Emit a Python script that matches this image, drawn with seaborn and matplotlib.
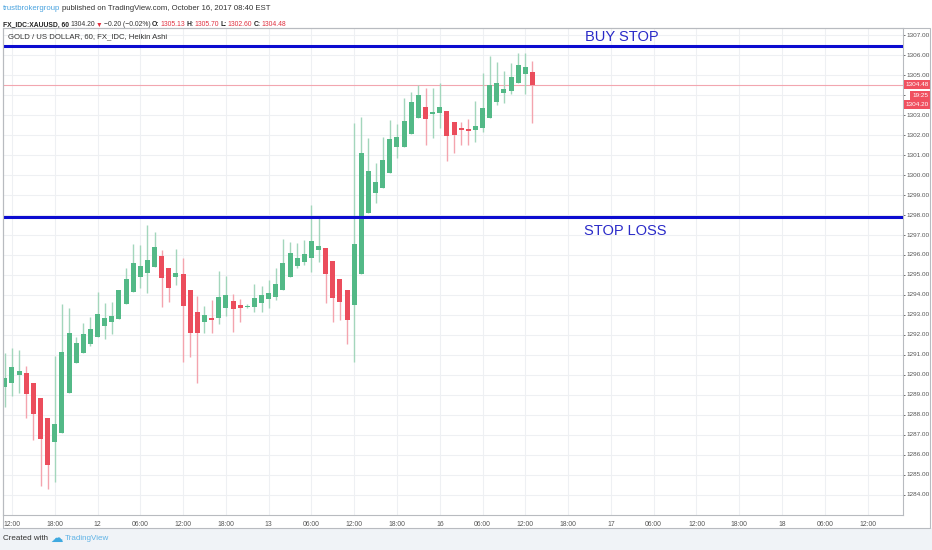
import numpy as np
import pandas as pd
import matplotlib
matplotlib.use("Agg")
import matplotlib.pyplot as plt
import seaborn as sns
from matplotlib.patches import Rectangle

# Heikin Ashi hourly bars, index 0 = 12:00 of the first labelled session
bar_index = list(range(-1, 74))
opens = [1289.39, 1289.60, 1289.96, 1290.10, 1289.60, 1288.81, 1287.81, 1286.64, 1287.09, 1289.10,
         1290.56, 1291.10, 1291.52, 1291.90, 1292.43, 1292.64, 1292.77, 1293.52, 1294.14, 1294.86,
         1295.10, 1295.39, 1295.92, 1295.35, 1294.89, 1295.03, 1294.23, 1293.14, 1292.61, 1292.81,
         1292.81, 1293.34, 1293.68, 1293.48, 1293.37, 1293.36, 1293.59, 1293.77, 1293.89, 1294.23,
         1294.89, 1295.44, 1295.64, 1295.81, 1296.23, 1296.35, 1295.67, 1294.76, 1294.23, 1293.48,
         1295.01, 1298.06, 1299.09, 1299.34, 1300.06, 1301.39, 1301.39, 1302.01, 1302.81, 1303.39,
         1303.04, 1303.06, 1303.19, 1302.61, 1302.31, 1302.28, 1302.23, 1302.34, 1302.81, 1303.61,
         1304.06, 1304.18, 1304.56, 1305.01, 1305.13]
closes = [1289.81, 1290.39, 1290.19, 1289.01, 1288.02, 1286.77, 1285.47, 1287.52, 1291.13, 1292.09,
          1291.59, 1292.02, 1292.26, 1293.01, 1292.81, 1292.95, 1294.23, 1294.78, 1295.56, 1295.42,
          1295.73, 1296.39, 1294.84, 1294.34, 1295.10, 1293.43, 1292.06, 1292.09, 1293.00, 1292.79,
          1293.86, 1294.00, 1293.27, 1293.31, 1293.43, 1293.84, 1293.98, 1294.06, 1294.55, 1295.56,
          1296.06, 1295.85, 1296.01, 1296.67, 1296.42, 1295.03, 1293.81, 1293.64, 1292.72, 1296.53,
          1301.09, 1300.19, 1299.61, 1300.73, 1301.76, 1301.86, 1302.69, 1303.61, 1303.98, 1302.76,
          1303.11, 1303.36, 1301.94, 1301.98, 1302.26, 1302.18, 1302.43, 1303.31, 1304.48, 1304.56,
          1304.28, 1304.86, 1305.48, 1305.36, 1304.48]
highs = [1291.06, 1291.34, 1291.22, 1290.44, 1289.60, 1288.81, 1287.81, 1290.92, 1293.52, 1293.31,
         1291.90, 1292.59, 1292.86, 1294.11, 1293.59, 1293.64, 1294.23, 1295.35, 1296.53, 1296.48,
         1297.47, 1297.11, 1296.23, 1295.35, 1296.26, 1295.85, 1294.23, 1293.93, 1293.43, 1293.73,
         1295.19, 1294.92, 1294.03, 1293.76, 1293.52, 1294.53, 1294.43, 1294.73, 1295.31, 1296.77,
         1296.64, 1296.56, 1296.72, 1298.47, 1297.90, 1296.35, 1295.67, 1294.76, 1294.23, 1302.56,
         1302.86, 1301.81, 1300.59, 1301.89, 1302.73, 1302.53, 1303.81, 1304.14, 1304.48, 1304.31,
         1304.31, 1304.56, 1303.19, 1302.61, 1302.64, 1302.78, 1303.68, 1305.09, 1305.93, 1305.64,
         1305.19, 1305.59, 1306.09, 1306.09, 1305.70]
lows = [1288.39, 1288.94, 1289.10, 1287.81, 1286.73, 1284.42, 1284.29, 1284.65, 1287.09, 1289.10,
        1290.56, 1291.10, 1291.42, 1291.90, 1291.77, 1292.02, 1292.77, 1293.52, 1294.14, 1294.34,
        1294.06, 1295.39, 1293.36, 1293.64, 1294.48, 1290.64, 1290.90, 1289.56, 1292.06, 1292.06,
        1292.52, 1292.93, 1292.14, 1292.64, 1293.34, 1293.14, 1293.14, 1293.31, 1293.73, 1294.23,
        1294.89, 1295.35, 1295.48, 1295.14, 1295.64, 1293.59, 1292.64, 1292.72, 1291.52, 1290.64,
        1295.01, 1298.06, 1298.56, 1299.34, 1300.06, 1300.81, 1301.39, 1302.01, 1302.81, 1301.48,
        1301.81, 1302.31, 1300.69, 1301.09, 1301.48, 1301.48, 1301.64, 1302.14, 1302.81, 1303.48,
        1303.56, 1304.03, 1304.56, 1304.03, 1302.60]

tick_labels = ["12:00", "18:00", "12", "06:00", "12:00", "18:00", "13", "06:00", "12:00", "18:00",
               "16", "06:00", "12:00", "18:00", "17", "06:00", "12:00", "18:00", "18", "06:00", "12:00"]
price_ticks = list(range(1284, 1308))

buy_stop = 1306.45
stop_loss = 1297.87
last_close = 1304.48
last_price = 1304.20

up_body, down_body = "#53b987", "#eb4d5c"
up_wick, down_wick = "#a3d6bc", "#f4a4ae"
level_blue = "#0c0cd0"
text_blue = "#2a2ac8"

df = pd.DataFrame({"bar": bar_index, "open": opens, "high": highs, "low": lows, "close": closes})
df["up"] = df["close"] >= df["open"]

sns.set_theme(style="whitegrid")
plt.rcParams["font.family"] = ["Liberation Sans", "DejaVu Sans"]

W, H = 932, 550
fig = plt.figure(figsize=(W / 100, H / 100), dpi=100)
fig.patch.set_facecolor("white")
renderer = fig.canvas.get_renderer()

# footer band
fig.add_artist(Rectangle((0, 0), 1, 22 / H, transform=fig.transFigure, fc="#f0f3f7", ec="none", zorder=0))
# outer chart frame
fig.add_artist(Rectangle((3 / W, 22 / H), 927 / W, 500 / H, transform=fig.transFigure,
                         fill=False, ec="#b8bbc0", lw=0.8, zorder=5))

ax = fig.add_axes([3 / W, 35 / H, 900 / W, 487 / H])
ax.set_facecolor("white")

# wicks and bodies
wick_cols = np.where(df["up"], up_wick, down_wick)
ax.vlines(df["bar"], df["low"], df["high"], colors=wick_cols, lw=1.0, zorder=3)
body = df["close"] - df["open"]
body = np.where(body.abs() < 0.06, np.where(df["up"], 0.06, -0.06), body)
ax.bar(df["bar"], body, bottom=df["open"], width=0.7,
       color=np.where(df["up"], up_body, down_body), linewidth=0, zorder=4)

# level lines
ax.axhline(buy_stop, color=level_blue, lw=2.2, zorder=5)
ax.axhline(stop_loss, color=level_blue, lw=2.2, zorder=5)
ax.axhline(last_close, color="#f2a6b0", lw=0.8, zorder=2)
ax.text(85.5, buy_stop + 0.42, "BUY STOP", color=text_blue, fontsize=10.5, ha="center", va="center")
ax.text(86.0, stop_loss - 0.68, "STOP LOSS", color=text_blue, fontsize=10.5, ha="center", va="center")

ax.text(0.005, 0.982, "GOLD / US DOLLAR, 60, FX_IDC, Heikin Ashi", transform=ax.transAxes,
        fontsize=5.6, color="#333333", ha="left", va="center")

ax.set_xlim(-1.26, 124.97)
ax.set_ylim(1282.975, 1307.325)
ax.set_xticks(np.arange(0, 6 * len(tick_labels), 6))
ax.set_xticklabels(tick_labels)
ax.set_yticks(price_ticks)
# the 1304 label sits under the live price boxes
ax.set_yticklabels(["" if v == 1304 else f"{v:.2f}" for v in price_ticks])
ax.yaxis.tick_right()
ax.tick_params(axis="y", labelsize=4.6, colors="#555555", length=1.5, width=0.6, pad=0.7)
ax.tick_params(axis="x", labelsize=4.9, colors="#555555", length=2, width=0.6, pad=2)
ax.grid(True, color="#eef0f3", lw=0.8)
for side in ["left", "right", "bottom", "top"]:
    ax.spines[side].set_color("#b8bbc0")
    ax.spines[side].set_linewidth(0.8)

# price boxes on the right scale
ytr = ax.get_yaxis_transform()
box = dict(boxstyle="square,pad=0.3", fc="#f0505f", ec="none")
ax.text(1.003, last_close, f"{last_close:.2f}", transform=ytr, fontsize=4.6, color="white",
        ha="left", va="center", bbox=box, zorder=10, clip_on=False)
ax.text(1.010, last_close - 0.52, "19:25", transform=ytr, fontsize=4.6, color="white",
        ha="left", va="center", bbox=box, zorder=10, clip_on=False)
ax.text(1.003, last_close - 0.97, f"{last_price:.2f}", transform=ytr, fontsize=4.6, color="white",
        ha="left", va="center", bbox=box, zorder=10, clip_on=False)


# header / footer: pieces laid out one after another
def text_run(px, py, pieces, size, gap=2.5):
    x = px
    for s, color, weight in pieces:
        t = fig.text(x / W, 1 - py / H, s, va="center", ha="left", fontsize=size,
                     color=color, fontweight=weight, family=["Liberation Sans", "DejaVu Sans"])
        x = t.get_window_extent(renderer).x1 + gap
    return x


dark, red = "#333333", "#e0303f"
text_run(3, 9, [("trustbrokergroup", "#4aa3df", "normal"),
                ("published on TradingView.com, October 16, 2017 08:40 EST", dark, "normal")], 5.6, gap=2)
text_run(3, 25, [("FX_IDC:XAUUSD, 60", "#222222", "bold"), ("1304.20", dark, "normal"),
                 ("\u25bc", red, "normal"), ("\u22120.20 (\u22120.02%)", dark, "normal"),
                 ("O:", "#222222", "bold"), ("1305.13", red, "normal"),
                 ("H:", "#222222", "bold"), ("1305.70", red, "normal"),
                 ("L:", "#222222", "bold"), ("1302.60", red, "normal"),
                 ("C:", "#222222", "bold"), ("1304.48", red, "normal")], 4.9, gap=1.2)

x_end = text_run(3, 539, [("Created with", dark, "normal")], 5.8)
fig.text((x_end + 6) / W, 1 - 538 / H, "\u2601", fontsize=9, color="#3fa9e0", ha="center", va="center",
         family=["DejaVu Sans"])
text_run(x_end + 14, 539, [("TradingView", "#5fb3e6", "normal")], 5.8)

fig.savefig("out.png", dpi=100)
